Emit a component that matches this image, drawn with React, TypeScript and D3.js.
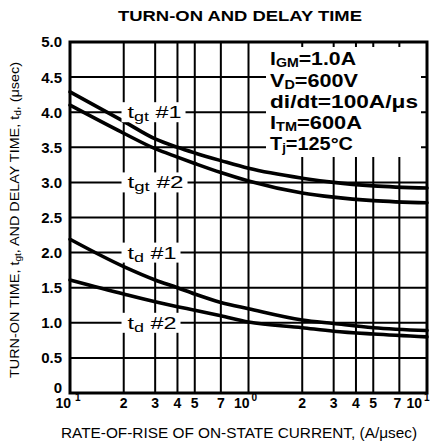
import React from "react";
import * as d3 from "d3";

// ---- data ----
const currentX = [0.1, 0.2, 0.3, 0.4, 0.5, 0.7, 1, 2, 3, 5, 10];
const tgt1 = [4.29, 3.87, 3.62, 3.5, 3.42, 3.31, 3.2, 3.06, 3.0, 2.95, 2.92];
const tgt2 = [4.1, 3.7, 3.48, 3.36, 3.27, 3.14, 3.02, 2.85, 2.79, 2.74, 2.71];
const td1 = [2.19, 1.8, 1.61, 1.5, 1.41, 1.29, 1.2, 1.04, 0.99, 0.93, 0.89];
const td2 = [1.61, 1.41, 1.3, 1.23, 1.18, 1.1, 1.01, 0.93, 0.88, 0.84, 0.8];

const yTicks = [0, 0.5, 1, 1.5, 2, 2.5, 3, 3.5, 4, 4.5, 5];
const yTickLabels = ["0", "0.5", "1.0", "1.5", "2.0", "2.5", "3.0", "3.5", "4.0", "4.5", "5.0"];
const xGrid = [0.2, 0.3, 0.4, 0.5, 0.7, 1, 2, 3, 4, 5, 7];
const xMinorVals = [0.2, 0.3, 0.4, 0.5, 0.7, 2, 3, 4, 5, 7];
const xMinorLabels = ["2", "3", "4", "5", "7", "2", "3", "4", "5", "7"];
const xDecades = [0.1, 1, 10];
const xDecadeExp = ["1", "0", "1"];

const seriesNames = ["tgt #1", "tgt #2", "td #1", "td #2"];
const seriesLabelMain = ["t", "t", "t", "t"];
const seriesLabelSub = ["gt", "gt", "d", "d"];
const seriesLabelRest = [" #1", " #2", " #1", " #2"];
const seriesLabelY = [4.0, 3.0, 2.0, 1.0];

const condMain = ["I", "V", "di/dt=100A/\u03bcs", "I", "T"];
const condSub = ["GM", "D", "", "TM", "j"];
const condRest = ["=1.0A", "=600V", "", "=600A", "=125\u00b0C"];

const title = "TURN-ON AND DELAY TIME";
const xTitle = "RATE-OF-RISE OF ON-STATE CURRENT, (A/\u03bcsec)";

export default function App() {
  const W = 439, H = 447;
  const L = 70, R = 427, T = 42, B = 393;
  const x = d3.scaleLog().domain([0.1, 10]).range([L, R]);
  const y = d3.scaleLinear().domain([0, 5]).range([B, T]);
  const series = [tgt1, tgt2, td1, td2];
  const line = d3
    .line<number>()
    .x((_, i) => x(currentX[i]))
    .y((d) => y(d))
    .curve(d3.curveMonotoneX);

  const font = "'Liberation Sans', Arial, Helvetica, sans-serif";
  const labelWidths = [54, 56, 49, 49];

  return (
    <svg
      width={W}
      height={H}
      style={{ position: "absolute", left: 0, top: 0, background: "#fff" }}
      fontFamily={font}
    >
      <rect x={0} y={0} width={W} height={H} fill="#fff" />
      {/* title */}
      <text x={240} y={21} textAnchor="middle" fontSize={15} fontWeight="bold" textLength={244} lengthAdjust="spacingAndGlyphs">
        {title}
      </text>

      {/* grid */}
      <g stroke="#000" strokeWidth={2}>
        {yTicks.slice(1, -1).map((v) => (
          <line key={"h" + v} x1={L} x2={R} y1={y(v)} y2={y(v)} />
        ))}
        {xGrid.map((v) => (
          <line key={"v" + v} x1={x(v)} x2={x(v)} y1={T} y2={B} />
        ))}
      </g>

      {/* conditions box masking grid */}
      <rect x={266} y={47} width={155} height={110} fill="#fff" />

      {/* curves */}
      <g fill="none" stroke="#000" strokeWidth={3.6} strokeLinecap="round">
        {series.map((s, i) => (
          <path key={seriesNames[i]} d={line(s) || ""} />
        ))}
      </g>

      {/* curve labels */}
      {seriesNames.map((n, i) => {
        const lx = x(0.21);
        const ly = y(seriesLabelY[i]);
        return (
          <g key={"lab" + n}>
            <rect x={lx - 6} y={ly - 10} width={labelWidths[i] + 10} height={20} fill="#fff" />
            <text x={lx} y={ly + 6} fontSize={17} textLength={labelWidths[i]} lengthAdjust="spacingAndGlyphs">
              {seriesLabelMain[i]}
              <tspan fontSize={13} dy={3}>{seriesLabelSub[i]}</tspan>
              <tspan dy={-3}>{seriesLabelRest[i]}</tspan>
            </text>
          </g>
        );
      })}

      {/* conditions */}
      {condMain.map((m, i) => {
        const widths = [86, 88, 148, 92, 83];
        const base = [65, 87, 108, 129, 150];
        return (
          <text key={"c" + i} x={270} y={base[i]} fontSize={18} fontWeight="bold" textLength={widths[i]} lengthAdjust="spacingAndGlyphs">
            {m}
            {condSub[i] ? (
              <tspan fontSize={12} dy={2}>{condSub[i]}</tspan>
            ) : null}
            {condRest[i] ? <tspan dy={condSub[i] ? -2 : 0}>{condRest[i]}</tspan> : null}
          </text>
        );
      })}

      {/* frame */}
      <rect x={L} y={T} width={R - L} height={B - T} fill="none" stroke="#000" strokeWidth={3} />

      {/* y tick labels */}
      {yTicks.map((v, i) => (
        <text key={"yl" + v} x={62} y={y(v) - (i === 0 ? 5 : 0)} dy="0.36em" textAnchor="end" fontSize={15} fontWeight="bold">
          {yTickLabels[i]}
        </text>
      ))}

      {/* x tick labels */}
      {xMinorVals.map((v, i) => (
        <text key={"xl" + i} x={x(v) - (v === 7 ? 2 : 0)} y={408} textAnchor="middle" fontSize={14} fontWeight="bold">
          {xMinorLabels[i]}
        </text>
      ))}
      {xDecades.map((v, i) => {
        const px = Math.min(x(v) + 1, 422);
        return (
          <g key={"xd" + v}>
            <text x={px} y={408} textAnchor="end" fontSize={14} fontWeight="bold">10</text>
            <text x={px + (i === 0 ? 4 : 2)} y={401} fontSize={10} fontWeight="bold">{xDecadeExp[i]}</text>
          </g>
        );
      })}

      {/* axis titles */}
      <text x={239} y={438} textAnchor="middle" fontSize={15} textLength={356} lengthAdjust="spacingAndGlyphs">
        {xTitle}
      </text>
      <text
        transform="translate(19,220) rotate(-90)"
        textAnchor="middle"
        fontSize={13}
        textLength={316}
        lengthAdjust="spacingAndGlyphs"
      >
        TURN-ON TIME, t<tspan fontSize={9} dy={2}>gt</tspan>
        <tspan dy={-2}>, AND DELAY TIME, t</tspan>
        <tspan fontSize={9} dy={2}>d</tspan>
        <tspan dy={-2}>, (</tspan>
        <tspan>{"\u03bc"}sec)</tspan>
      </text>
    </svg>
  );
}
